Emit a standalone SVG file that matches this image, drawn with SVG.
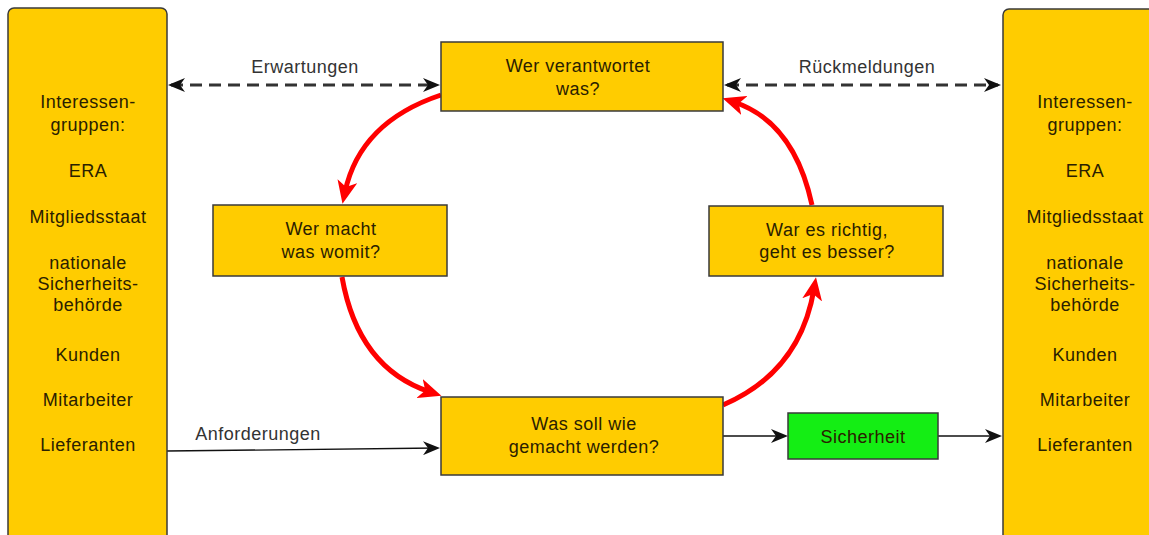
<svg xmlns="http://www.w3.org/2000/svg" width="1149" height="535" viewBox="0 0 1149 535">
<style>
.box{fill:#ffcc00;stroke:#3a3a3a;stroke-width:1.5}
.green{fill:#14ee14;stroke:#3a3a3a;stroke-width:1.5}
text{font-family:"Liberation Sans",Arial,sans-serif;font-size:18px;fill:#2a2000;letter-spacing:0.5px;text-anchor:middle}
.lbl{fill:#333}
.dash{fill:none;stroke:#333;stroke-width:3;stroke-dasharray:12 7}
.blk{fill:none;stroke:#111;stroke-width:1.3}
.red{fill:none;stroke:#ff0000;stroke-width:5}
</style>
<defs>
<marker id="ab" markerUnits="userSpaceOnUse" markerWidth="18" markerHeight="14" refX="14" refY="7" orient="auto-start-reverse" viewBox="0 0 18 14">
<path d="M0,0 L17,7 L0,14 L5,7 z" fill="#111"/>
</marker>
<marker id="ar" markerUnits="userSpaceOnUse" markerWidth="24" markerHeight="20" refX="11" refY="10" orient="auto" viewBox="0 0 24 20">
<path d="M0,0 L23,10 L0,20 L6,10 z" fill="#ff0000"/>
</marker>
</defs>
<g id="connectors">
<path class="dash" d="M171,85 L437,85" marker-start="url(#ab)" marker-end="url(#ab)"/>
<path class="dash" d="M727,85 L998,85" marker-start="url(#ab)" marker-end="url(#ab)"/>
<path class="blk" d="M167,451 L437,448" marker-end="url(#ab)"/>
<path class="blk" d="M723,436 L785,436" marker-end="url(#ab)"/>
<path class="blk" d="M938,436 L999,436" marker-end="url(#ab)"/>
<path class="red" d="M441,95 Q360,122 345,192" marker-end="url(#ar)"/>
<path class="red" d="M342,277 Q358,368 430,392" marker-end="url(#ar)"/>
<path class="red" d="M723,405 Q800,372 814,289" marker-end="url(#ar)"/>
<path class="red" d="M812,205 Q794,122 734,102" marker-end="url(#ar)"/>
<text class="lbl" x="305" y="73">Erwartungen</text>
<text class="lbl" x="867" y="73">Rückmeldungen</text>
<text class="lbl" x="258" y="440">Anforderungen</text>
</g>
<g id="left-group">
<rect class="box" x="8" y="8" width="159" height="545" rx="6"/>
<text x="88" y="108">Interessen-</text>
<text x="88" y="131">gruppen:</text>
<text x="88" y="177">ERA</text>
<text x="88" y="223">Mitgliedsstaat</text>
<text x="88" y="269">nationale</text>
<text x="88" y="290">Sicherheits-</text>
<text x="88" y="311">behörde</text>
<text x="88" y="361">Kunden</text>
<text x="88" y="406">Mitarbeiter</text>
<text x="88" y="451">Lieferanten</text>
</g>
<g id="right-group">
<rect class="box" x="1003" y="9" width="170" height="545" rx="6"/>
<text x="1085" y="108">Interessen-</text>
<text x="1085" y="131">gruppen:</text>
<text x="1085" y="177">ERA</text>
<text x="1085" y="223">Mitgliedsstaat</text>
<text x="1085" y="269">nationale</text>
<text x="1085" y="290">Sicherheits-</text>
<text x="1085" y="311">behörde</text>
<text x="1085" y="361">Kunden</text>
<text x="1085" y="406">Mitarbeiter</text>
<text x="1085" y="451">Lieferanten</text>
</g>
<g id="wer-verantwortet">
<rect class="box" x="441" y="42" width="282" height="69"/>
<text x="578" y="72">Wer verantwortet</text>
<text x="578" y="95">was?</text>
</g>
<g id="wer-macht">
<rect class="box" x="213" y="205" width="234" height="71"/>
<text x="331" y="235">Wer macht</text>
<text x="331" y="258">was womit?</text>
</g>
<g id="war-es-richtig">
<rect class="box" x="709" y="206" width="234" height="70"/>
<text x="827" y="236">War es richtig,</text>
<text x="827" y="258">geht es besser?</text>
</g>
<g id="was-soll">
<rect class="box" x="441" y="397" width="282" height="78"/>
<text x="584" y="430">Was soll wie</text>
<text x="584" y="453">gemacht werden?</text>
</g>
<g id="sicherheit">
<rect class="green" x="788" y="413" width="150" height="46"/>
<text x="863" y="443">Sicherheit</text>
</g>
</svg>
